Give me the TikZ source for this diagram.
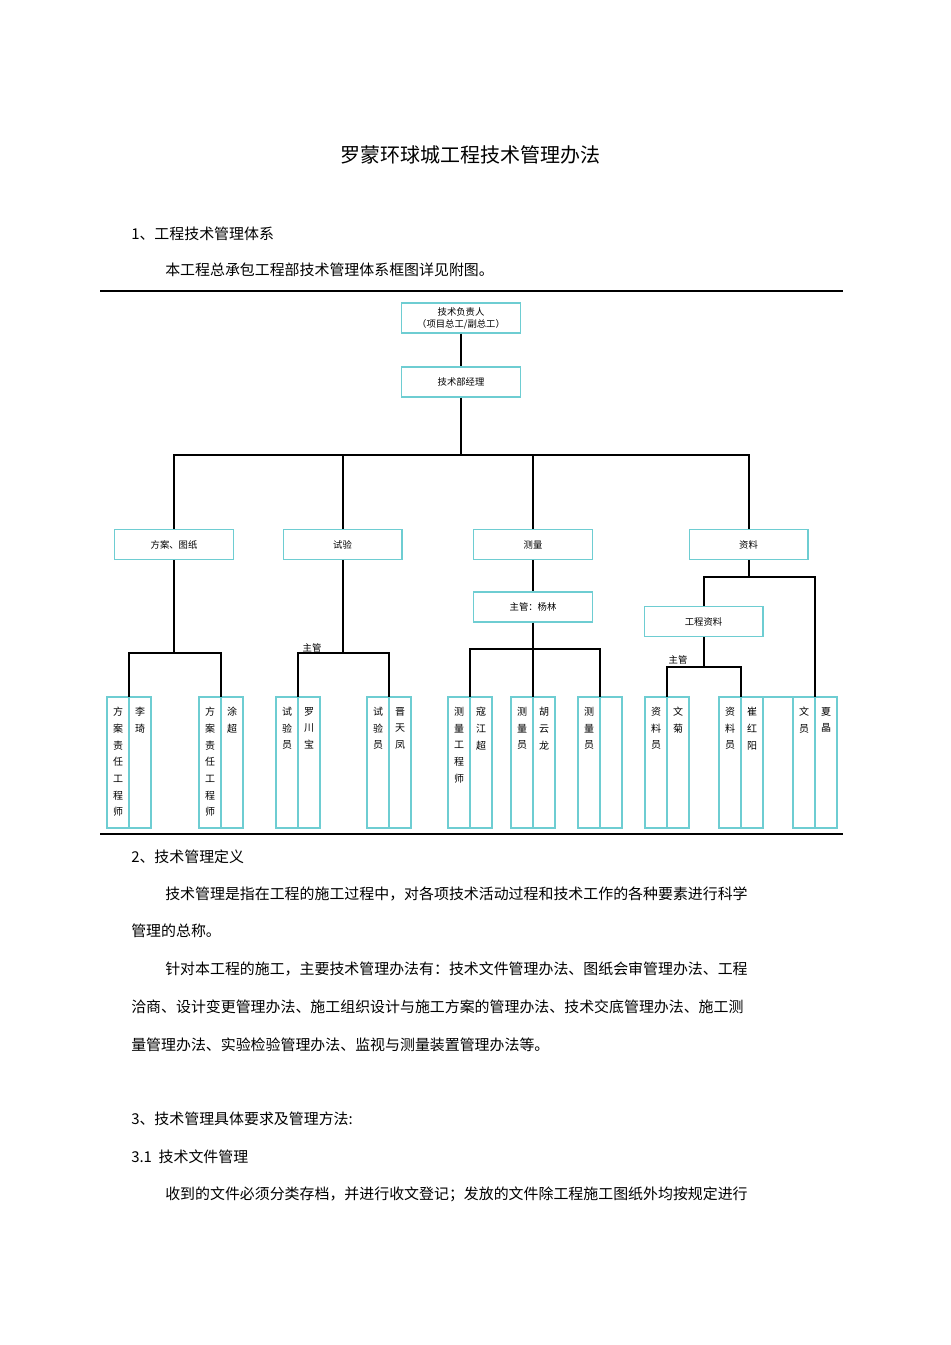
\documentclass[tikz,border=0pt]{standalone}
\usepackage{fontspec}
\setmainfont{Noto Sans CJK SC}
\begin{document}
\begin{tikzpicture}[x=0.75pt,y=-0.75pt,
  bx/.style={draw={rgb,255:red,110;green,205;blue,210},line width=1pt,minimum width=89pt,minimum height=22.5pt,inner sep=0pt,font=\fontsize{7}{9}\selectfont,align=center},
  ln/.style={line width=1.5pt,black},
  cb/.style={draw={rgb,255:red,110;green,205;blue,210},line width=1pt},
  vt/.style={anchor=north,font=\fontsize{7.5}{12.5}\selectfont,align=center,inner sep=0pt},
  lab/.style={font=\fontsize{7}{9}\selectfont,inner sep=0pt},
  tx/.style={anchor=west,font=\fontsize{11.2}{13}\selectfont,inner sep=0pt}]
\useasboundingbox (0,0) rectangle (950,1345);
\node[font=\fontsize{15}{18}\selectfont] (title) at (470,155) {罗蒙环球城工程技术管理办法};
\node[tx] (t1) at (131,234) {1、工程技术管理体系};
\node[tx] (t2) at (165,270) {本工程总承包工程部技术管理体系框图详见附图。};
\draw[line width=1.8pt] (100,291) -- (843,291);
\draw[line width=0.8pt] (100,834) -- (843,834);
% top
\node[bx] (top) at (461,318) {技术负责人\\（项目总工/副总工）};
\node[bx] (mgr) at (461,382) {技术部经理};
\node[bx] (fa) at (174,544.5) {方案、图纸};
\node[bx] (sy) at (342.5,544.5) {试验};
\node[bx] (cl) at (533,544.5) {测量};
\node[bx] (zl) at (748.5,544.5) {资料};
\node[bx] (yl) at (533,607) {主管：杨林};
\node[bx] (gc) at (703.5,621.5) {工程资料};
\coordinate (h) at (461,455);
\draw[ln] (top) -- (mgr);
\draw[ln] (mgr.south) -- (h);
\draw[ln] (fa.north) |- (h) -| (zl.north);
\draw[ln] (sy.north) -- (sy.north |- h);
\draw[ln] (cl.north) -- (cl.north |- h);
\draw[ln] (cl.south) -- (yl.north);
% bottom boxes
\newcommand{\pb}[4]{%
 \draw[cb] (#1-22,697) rectangle (#1,828);
 \draw[cb] (#1,697) rectangle (#1+22,828);
 \coordinate (#2) at (#1,697);
 \node[vt] (#2l) at (#1-11,707) {#3};
 \node[vt] (#2r) at (#1+11,707) {#4};}
\pb{129}{b1}{方\\案\\责\\任\\工\\程\\师}{李\\琦}
\pb{221}{b2}{方\\案\\责\\任\\工\\程\\师}{涂\\超}
\pb{298}{b3}{试\\验\\员}{罗\\川\\宝}
\pb{389}{b4}{试\\验\\员}{晋\\天\\凤}
\pb{470}{b5}{测\\量\\工\\程\\师}{寇\\江\\超}
\pb{533}{b6}{测\\量\\员}{胡\\云\\龙}
\pb{600}{b7}{测\\量\\员}{}
\pb{667}{b8}{资\\料\\员}{文\\菊}
\pb{741}{b9}{资\\料\\员}{崔\\红\\阳}
\pb{815}{b10}{文\\员}{夏\\晶}
\draw[cb] (763,697) -- (793,697);
% subtrees
\draw[ln] (fa.south) -- (174,653);
\draw[ln] (b1) |- (174,653) -| (b2);
\draw[ln] (sy.south) -- (342.5,653);
\draw[ln] (b3) |- (342.5,653) -| (b4);
\node[lab] (zg1) at (312,648) {主管};
\draw[ln] (yl.south) -- (b6);
\draw[ln] (b5) |- (533,649) -| (b7);
\draw[ln] (zl.south) -- (748.5,577);
\draw[ln] (gc.north) |- (748.5,577) -| (b10);
\draw[ln] (gc.south) -- (703.5,667);
\draw[ln] (b8) |- (703.5,667) -| (b9);
\node[lab] (zg2) at (678,660) {主管};
% text below
\node[tx] (t3) at (131,857) {2、技术管理定义};
\node[tx] (t4) at (165,894) {技术管理是指在工程的施工过程中，对各项技术活动过程和技术工作的各种要素进行科学};
\node[tx] (t5) at (131,931) {管理的总称。};
\node[tx] (t6) at (165,969) {针对本工程的施工，主要技术管理办法有：技术文件管理办法、图纸会审管理办法、工程};
\node[tx] (t7) at (131,1007) {洽商、设计变更管理办法、施工组织设计与施工方案的管理办法、技术交底管理办法、施工测};
\node[tx] (t8) at (131,1045) {量管理办法、实验检验管理办法、监视与测量装置管理办法等。};
\node[tx] (t9) at (131,1119) {3、技术管理具体要求及管理方法:};
\node[tx] (t10) at (131,1157) {3.1\ \ 技术文件管理};
\node[tx] (t11) at (165,1194) {收到的文件必须分类存档，并进行收文登记；发放的文件除工程施工图纸外均按规定进行};
\end{tikzpicture}
\end{document}
